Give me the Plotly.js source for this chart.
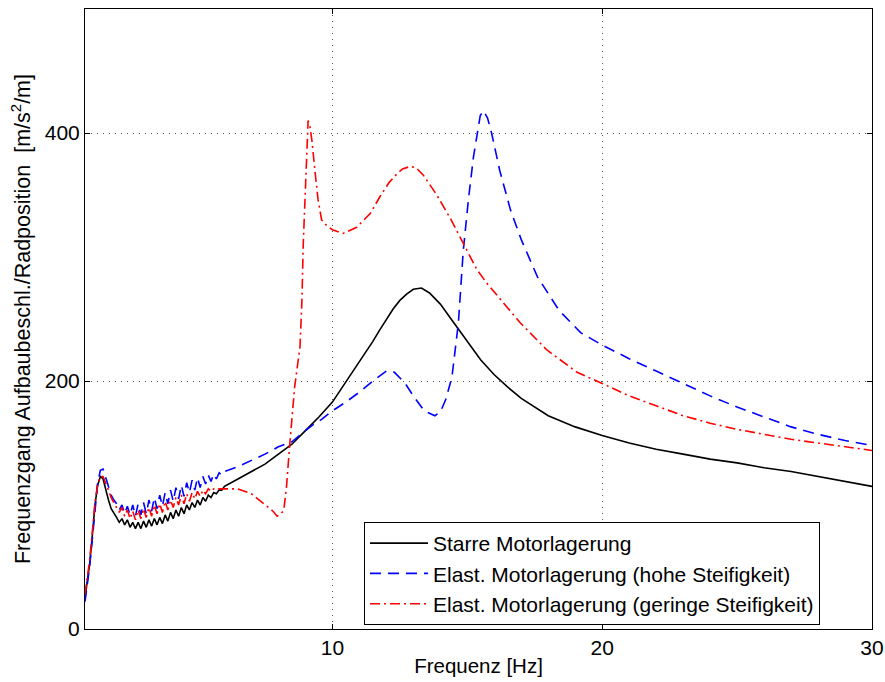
<!DOCTYPE html>
<html>
<head>
<meta charset="utf-8">
<script src="https://cdn.plot.ly/plotly-3.0.1.min.js"></script>
<style>html,body{margin:0;padding:0;background:#fff;}#chart{width:885px;height:682px;}</style>
</head>
<body>
<div id="chart"></div>
<script>
// ---- Data ----
const xTicks = [10, 20, 30];
const yTicks = [0, 200, 400];

const seriesNames = [
  "Starre Motorlagerung",
  "Elast. Motorlagerung (hohe Steifigkeit)",
  "Elast. Motorlagerung (geringe Steifigkeit)"
];

const xBlack = [0.83,0.9,1.0,1.1,1.2,1.3,1.4,1.5,1.6,1.7,1.8,1.9,
  2.0,2.1,2.2,2.3,2.4,2.5,2.6,2.7,2.8,2.9,3.0,3.1,3.2,3.3,3.4,3.5,3.6,3.7,3.8,3.9,
  4.0,4.1,4.2,4.3,4.4,4.5,4.6,4.7,4.8,4.9,5.0,5.1,5.2,5.3,5.4,5.5,5.6,5.7,5.8,5.9,6.0,
  6.5,7.0,7.5,8.0,8.5,9.0,9.5,10.0,10.5,11.0,11.5,11.75,12.0,12.25,12.5,12.75,13.0,13.3,13.6,14.0,14.5,
  15.0,15.5,16.0,16.5,17.0,18.0,19.0,20,21,22,23,24,25,26,27,28,29,30];
const yBlack = [25,35,52,75,100,116,123,121,112,104,97,94,
  90,86,89,84,88,82,86,81,86,81,87,82,88,83,89,84,90,85,92,87,
  94,89,96,91,98,93,100,96,102,98,104,100,106,103,108,106,110,109,112,112,115,
  121,127,133,141,149,160,171,183,199,216,232,241,250,258,265,270,274,275,271,262,247,
  232,217,205,195,186,172,163,156,150,145,141,137,134,130,127,123,119,115];

const xBlue = [0.83,0.9,1.0,1.1,1.2,1.3,1.4,1.5,1.6,1.7,1.8,1.9,
  2.0,2.1,2.2,2.3,2.4,2.5,2.6,2.7,2.8,2.9,3.0,3.1,3.2,3.3,3.4,3.5,3.6,3.7,3.8,3.9,
  4.0,4.1,4.2,4.3,4.4,4.5,4.6,4.7,4.8,4.9,5.0,5.1,5.2,5.3,5.4,5.5,5.6,5.7,5.8,5.9,6.0,
  6.5,7.0,7.5,8.0,8.5,9.0,9.3,9.6,10.0,10.5,11.0,11.5,12.0,12.3,12.7,13.0,13.4,13.8,14.0,
  14.2,14.43,14.67,14.85,15.04,15.23,15.48,15.6,15.75,15.9,16.2,16.6,17.0,17.6,18.4,19.2,
  20,21,22,23,24,25,26,27,28,29,30];
const yBlue = [22,32,50,72,98,118,128,129,122,114,108,104,
  101,96,100,93,99,92,100,91,101,92,102,93,104,95,106,97,108,99,110,101,
  112,103,114,105,116,107,118,110,120,112,122,114,123,117,124,119,125,121,126,124,127,
  131,136,141,147,151,160,165,169,176,183,191,200,208,207,198,188,176,172,175,
  185,203,247,305,346,381,414,418,412,400,370,338,314,284,257,239,
  229,218,208,198,188,179,171,163,157,152,148];

const xRed = [0.83,0.9,1.0,1.1,1.2,1.3,1.4,1.5,1.6,1.7,1.8,1.9,
  2.0,2.1,2.2,2.3,2.4,2.5,2.6,2.7,2.8,2.9,3.0,3.1,3.2,3.3,3.4,3.5,3.6,3.7,3.8,3.9,
  4.0,4.1,4.2,4.3,4.4,4.5,4.6,4.7,4.8,4.9,5.0,5.1,5.2,5.3,5.4,5.5,5.6,5.7,5.8,5.9,6.0,
  6.5,7.0,7.3,7.6,7.8,7.95,8.1,8.2,8.3,8.4,8.6,8.8,8.87,8.92,8.99,9.05,9.1,9.17,9.24,
  9.36,9.47,9.6,9.8,10.0,10.4,10.9,11.4,11.77,12.1,12.39,12.6,12.88,13.1,13.37,13.87,14.4,
  14.85,15.35,15.72,16.33,16.96,17.95,19.07,20,21,22,23,24,25,26,27,28,29,30];
const yRed = [28,38,55,78,102,117,123,123,118,112,106,102,
  98,94,98,91,96,89,95,88,96,89,97,90,98,91,100,93,101,94,103,96,
  104,98,106,100,108,101,109,103,110,105,111,107,112,109,113,111,113,112,113,113,113,
  113,109,104,99,95,91,93,96,115,144,195,228,265,311,351,386,410,405,394,
  368,346,330,325,322,319,324,335,349,360,367,371,373,372,366,350,330,
  311,290,279,263,247,225,207,198,188,180,172,166,161,157,153,150,147,144];

// ---- Plot ----
const font = {family: "Liberation Sans, Arial, Helvetica, sans-serif", color: "#000"};

const traces = [
  {x: xBlack, y: yBlack, name: seriesNames[0], mode: "lines",
   line: {color: "#000000", width: 1.6, dash: "solid"}},
  {x: xBlue, y: yBlue, name: seriesNames[1], mode: "lines",
   line: {color: "#0000ff", width: 1.6, dash: "11px,7px"}},
  {x: xRed, y: yRed, name: seriesNames[2], mode: "lines",
   line: {color: "#ff0000", width: 1.6, dash: "10px,4px,2px,4px"}}
];

const axisCommon = {
  showline: true, linecolor: "#000", linewidth: 1, mirror: "ticks",
  ticks: "inside", ticklen: 5, tickcolor: "#000", tickwidth: 1,
  showgrid: true, gridcolor: "#555", griddash: "1px,5px", gridwidth: 1,
  zeroline: false, tickfont: Object.assign({size: 21}, font)
};

const layout = {
  width: 885, height: 682,
  paper_bgcolor: "#fff", plot_bgcolor: "#fff",
  margin: {l: 85, r: 13, t: 9, b: 53},
  showlegend: true,
  font: font,
  xaxis: Object.assign({}, axisCommon, {
    range: [0.83, 30], tickmode: "array", tickvals: xTicks, ticktext: xTicks.map(String),
    title: {text: "Frequenz [Hz]", font: Object.assign({size: 20.5}, font), standoff: 0}
  }),
  yaxis: Object.assign({}, axisCommon, {
    range: [0, 500], tickmode: "array", tickvals: yTicks, ticktext: yTicks.map(String),
    title: {text: "Frequenzgang Aufbaubeschl./Radposition  [m/s<sup>2</sup>/m]", font: Object.assign({size: 21.5}, font), standoff: 8}
  }),
  legend: {
    x: 0.3545, y: 0.0065, xanchor: "left", yanchor: "bottom",
    bgcolor: "#fff", bordercolor: "#000", borderwidth: 1,
    font: Object.assign({size: 21}, font),
    tracegroupgap: 0, itemwidth: 58
  }
};

Plotly.newPlot("chart", traces, layout, {displayModeBar: false, staticPlot: true});
</script>
</body>
</html>
